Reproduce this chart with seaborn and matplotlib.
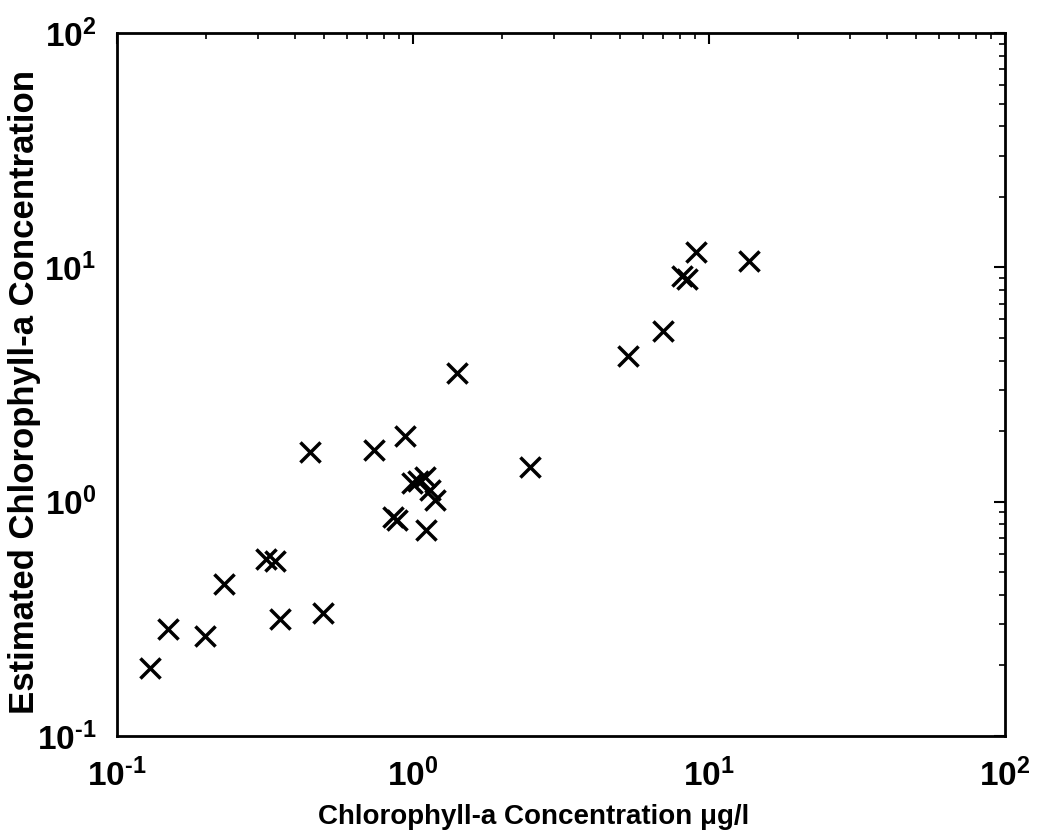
import matplotlib
matplotlib.use("Agg")
import matplotlib.pyplot as plt
import seaborn as sns
import pandas as pd
from matplotlib.ticker import LogLocator, FixedLocator

# Measured vs. estimated chlorophyll-a
measured = [0.129, 0.149, 0.198, 0.230, 0.320, 0.342, 0.356, 0.497, 0.449, 0.738,
            0.940, 1.405, 0.990, 1.040, 1.098, 1.140, 1.190, 0.856, 0.883, 1.106,
            2.480, 9.04, 13.7, 8.10, 8.40, 6.97, 5.31]
estimated = [0.195, 0.286, 0.268, 0.446, 0.569, 0.556, 0.315, 0.334, 1.636, 1.667,
             1.910, 3.550, 1.205, 1.230, 1.280, 1.125, 1.020, 0.863, 0.838, 0.759,
             1.400, 11.6, 10.6, 9.20, 8.90, 5.35, 4.18]
decade_ticks = [0.1, 1, 10, 100]
tick_labels = [r"$10^{\text{-}1}$", r"$10^{0}$", r"$10^{1}$", r"$10^{2}$"]
xlabel = "Chlorophyll-a Concentration \u03bcg/l"
ylabel = "Estimated Chlorophyll-a Concentration"

sns.set_theme(style="white")
plt.rcParams['font.family'] = ['Liberation Sans', 'DejaVu Sans']
plt.rcParams['mathtext.fontset'] = 'custom'
plt.rcParams['mathtext.rm'] = 'Liberation Sans:bold'
plt.rcParams['mathtext.it'] = 'Liberation Sans:bold'
plt.rcParams['mathtext.bf'] = 'Liberation Sans:bold'
plt.rcParams['text.color'] = 'black'
plt.rcParams['axes.labelcolor'] = 'black'

df = pd.DataFrame({"measured": measured, "estimated": estimated})

fig = plt.figure(figsize=(10.37, 8.39), dpi=100)
ax = fig.add_axes([0.1128, 0.1228, 0.8563, 0.8379])
sns.scatterplot(data=df, x="measured", y="estimated", marker="x", color="black",
                s=210, linewidth=2.5, ax=ax)
ax.set_xscale("log")
ax.set_yscale("log")
ax.set_xlim(0.1, 100)
ax.set_ylim(0.1, 100)
ax.xaxis.set_major_locator(FixedLocator(decade_ticks))
ax.yaxis.set_major_locator(FixedLocator(decade_ticks))
ax.set_xticklabels(tick_labels)
ax.set_yticklabels(tick_labels)
ax.xaxis.set_minor_locator(LogLocator(base=10, subs=range(2, 10)))
ax.yaxis.set_minor_locator(LogLocator(base=10, subs=range(2, 10)))
ax.tick_params(which="both", direction="in", top=True, right=True, colors="black",
               labelsize=24)
ax.tick_params(axis="x", which="major", pad=16)
ax.tick_params(axis="y", which="major", pad=15)
ax.tick_params(which="major", length=8, width=1.5)
ax.tick_params(which="minor", length=4, width=1.2)
for sp in ax.spines.values():
    sp.set_color("black")
    sp.set_linewidth(2)
ax.set_xlabel(xlabel, fontsize=20, fontweight="bold", color="black")
ax.set_ylabel(ylabel, fontsize=25, fontweight="bold", color="black")
ax.xaxis.set_label_coords(0.4696, -0.097)
ax.yaxis.set_label_coords(-0.086, 0.49)
ax.grid(False)
fig.savefig("out.png", dpi=100)
